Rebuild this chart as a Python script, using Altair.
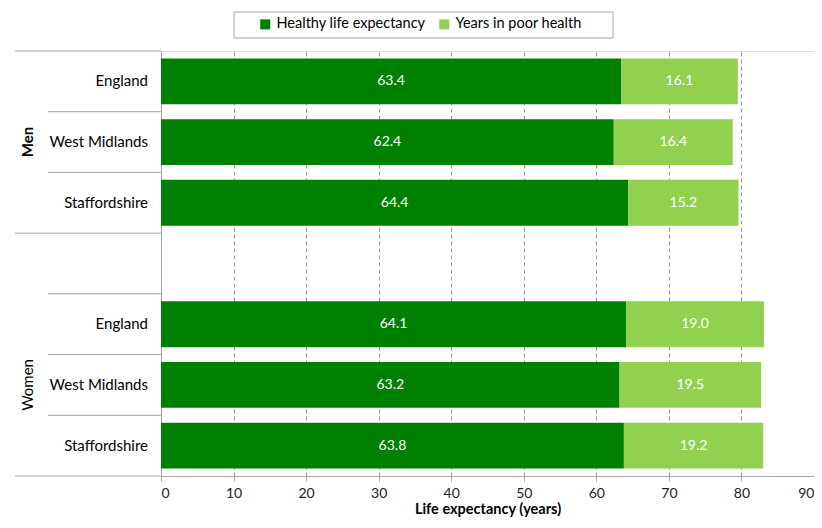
import altair as alt
import pandas as pd

rows = ["M1", "M2", "M3", "gap", "W1", "W2", "W3"]
areas = ["England", "West Midlands", "Staffordshire"]
healthy_men = [63.4, 62.4, 64.4]
poor_men = [16.1, 16.4, 15.2]
healthy_women = [64.1, 63.2, 63.8]
poor_women = [19.0, 19.5, 19.2]
series = ["Healthy life expectancy", "Years in poor health"]
colors = ["#008000", "#92D050"]
groups = ["Men", "Women"]
x_ticks = [0, 10, 20, 30, 40, 50, 60, 70, 80, 90]

recs = []
labels = []
for g, hv, pv, keys in [("Men", healthy_men, poor_men, rows[0:3]),
                        ("Women", healthy_women, poor_women, rows[4:7])]:
    for k, a, h, p in zip(keys, areas, hv, pv):
        recs.append({"row": k, "series": series[0], "start": 0, "end": h, "val": h})
        recs.append({"row": k, "series": series[1], "start": h, "end": h + p, "val": p})
        labels.append({"row": k, "area": a})
df = pd.DataFrame(recs)
lab = pd.DataFrame(labels)

FONT = "Lato"
GRAY = "#A6A6A6"
yenc = alt.Y("row:N", scale=alt.Scale(domain=rows, paddingInner=0, paddingOuter=0),
             axis=alt.Axis(labels=False, ticks=False, domain=True, domainColor=GRAY,
                           title=None, grid=False))
xscale = alt.Scale(domain=[0, 90], nice=False)

bars = alt.Chart(df).mark_bar(height={"band": 0.755}).encode(
    y=yenc,
    x=alt.X("start:Q", scale=xscale,
            axis=alt.Axis(values=x_ticks, grid=True, gridDash=[4, 3], gridColor="#9a9a9a",
                          domainColor=GRAY, tickColor=GRAY, tickSize=5, labelFlush=True,
                          labelFont=FONT, labelFontSize=14, labelColor="#222222",
                          labelPadding=5, title="Life expectancy (years)",
                          titleFont=FONT, titleFontSize=14.5, titleFontWeight="bold",
                          titleColor="#000000", titlePadding=2)),
    x2="end:Q",
    color=alt.Color("series:N", scale=alt.Scale(domain=series, range=colors),
                    legend=alt.Legend(title=None, orient="none", direction="horizontal",
                                      legendX=97, legendY=-34, padding=0,
                                      symbolType="square", symbolSize=100,
                                      symbolStrokeWidth=0, labelFont=FONT, labelFontSize=14.5,
                                      labelColor="#000000", columnPadding=11,
                                      labelOffset=4)),
)

legend_box = alt.Chart(pd.DataFrame({"k": [0]})).mark_rect(
    fill="white", stroke=GRAY, strokeWidth=1
).encode(x=alt.value(73), x2=alt.value(452), y=alt.value(-39), y2=alt.value(-13))

vals = alt.Chart(df).transform_calculate(mid="(datum.start + datum.end) / 2").mark_text(
    color="white", font=FONT, fontSize=14
).encode(
    y=alt.Y("row:N"),
    x=alt.X("mid:Q"),
    text=alt.Text("val:Q", format=".1f"),
)

cat = alt.Chart(lab).mark_text(align="right", font=FONT, fontSize=15, color="#000000").encode(
    y=alt.Y("row:N"), x=alt.value(-13), text="area:N"
)

men_txt = alt.Chart(pd.DataFrame({"row": ["M2"], "g": [groups[0]]})).mark_text(
    angle=270, font=FONT, fontSize=15, fontWeight="bold", color="#000000", baseline="middle"
).encode(y=alt.Y("row:N"), x=alt.value(-133), text="g:N")

women_txt = alt.Chart(pd.DataFrame({"row": ["W2"], "g": [groups[1]]})).mark_text(
    angle=270, font=FONT, fontSize=15, color="#000000", baseline="middle"
).encode(y=alt.Y("row:N"), x=alt.value(-133), text="g:N")

inner = alt.Chart(pd.DataFrame({"row": ["M2", "M3", "W1", "W2", "W3"]})).mark_rule(
    color=GRAY, strokeWidth=1
).encode(y=alt.Y("row:N", bandPosition=0), x=alt.value(-113), x2=alt.value(0))

outer = alt.Chart(pd.DataFrame({"row": ["M1", "gap"]})).mark_rule(
    color=GRAY, strokeWidth=1
).encode(y=alt.Y("row:N", bandPosition=0), x=alt.value(-146), x2=alt.value(0))

bottom = alt.Chart(pd.DataFrame({"row": ["W3"]})).mark_rule(
    color=GRAY, strokeWidth=1
).encode(y=alt.Y("row:N", bandPosition=1), x=alt.value(-146), x2=alt.value(0))

chart = alt.layer(legend_box, bars, vals, cat, men_txt, women_txt, inner, outer, bottom).properties(
    width=653, height=425,
    autosize=alt.AutoSizeParams(type="none"),
    padding={"left": 153, "top": 43, "right": 0, "bottom": 41},
).configure_view(stroke=GRAY, strokeWidth=1).configure(background="white")

chart.save("out.html", embed_options={"renderer": "svg", "actions": False})
